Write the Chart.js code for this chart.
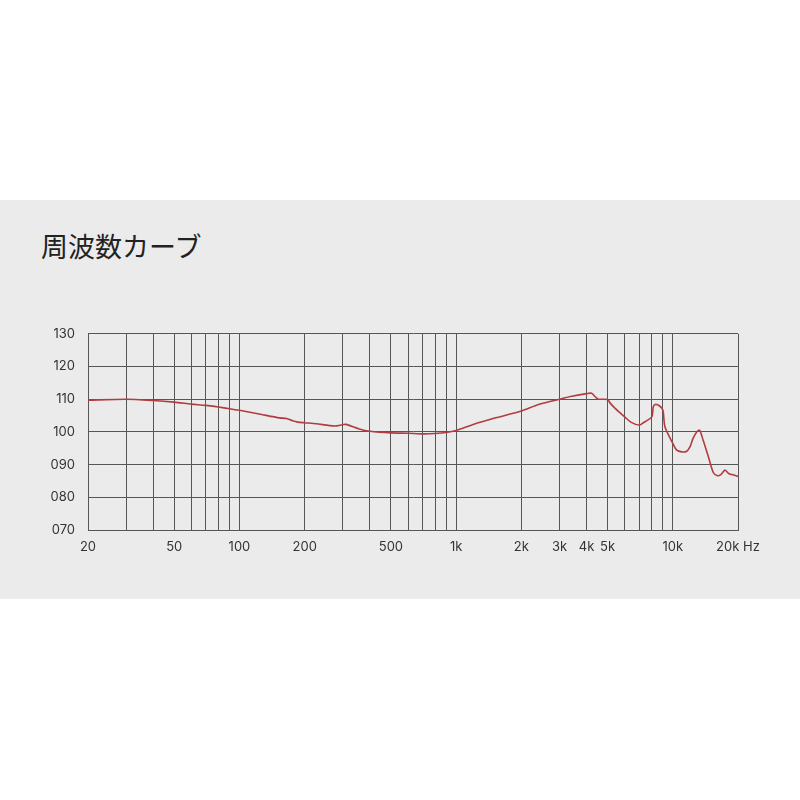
<!DOCTYPE html>
<html lang="ja">
<head>
<meta charset="UTF-8">
<title>周波数カーブ</title>
<style>
  body {
    margin: 0;
    background: #fff;
    width: 800px;
    height: 800px;
    position: relative;
    overflow: hidden;
  }
  .band {
    position: absolute;
    left: 0;
    top: 200px;
    width: 800px;
    height: 399px;
    background: #ebebeb;
  }
  .band h1 {
    position: absolute;
    left: 41px;
    top: 26px;
    margin: 0;
    font-family: "Noto Sans CJK JP", sans-serif;
    font-weight: 400;
    font-size: 27px;
    color: #222;
  }
  .chart-box {
    position: absolute;
    left: 0;
    top: 113px;
    width: 800px;
    height: 257px;
  }
</style>
<script src="https://cdn.jsdelivr.net/npm/chart.js"></script>
</head>
<body>
<div class="band">
  <h1>周波数カーブ</h1>
  <div class="chart-box"><canvas id="freqChart"></canvas></div>
</div>

<script>
// frequency response (Hz / dB)
var freqs = [20, 30, 40, 50, 60, 70, 80, 90, 100, 125, 153, 165, 176, 186, 200, 226, 274, 300, 310, 357,
  400, 500, 600, 700, 800, 900, 1000, 1190, 1520, 2000, 2400, 3000, 3420, 4000, 4220, 4440, 4540,
  5000, 5140, 5420, 6000, 6400, 7000, 7310, 8000, 8130, 8300, 8670, 9000, 9200, 10000, 10400, 11000,
  11600, 12000, 12400, 12900, 13300, 13800, 14600, 15400, 16100, 16700, 17400, 18100, 19600, 20000];
var spl = [109.7, 110.0, 109.6, 109.1, 108.5, 108.1, 107.6, 107.1, 106.6, 105.4, 104.3, 104.1, 103.4, 103.0, 102.8, 102.5, 101.8, 102.2, 102.3, 100.9,
  100.2, 99.7, 99.6, 99.4, 99.5, 99.8, 100.4, 102.2, 104.3, 106.4, 108.4, 110.0, 110.9, 111.7, 111.8, 110.4, 110.0,
  109.9, 108.8, 107.2, 104.6, 103.0, 102.1, 102.8, 104.6, 107.7, 108.4, 108.0, 106.7, 101.6, 96.5, 94.5, 93.9,
  94.1, 95.4, 98.0, 100.0, 100.5, 97.5, 92.4, 87.5, 86.6, 87.0, 88.3, 87.3, 86.6, 86.4];

// grid / tick positions on the frequency axis
var xTicks = [20, 30, 40, 50, 60, 70, 80, 90, 100, 200, 300, 400, 500, 600, 700, 800, 900,
  1000, 2000, 3000, 4000, 5000, 6000, 7000, 8000, 9000, 10000, 20000];
var xLabels = {20: '20', 50: '50', 100: '100', 200: '200', 500: '500', 1000: '1k', 2000: '2k',
  3000: '3k', 4000: '4k', 5000: '5k', 10000: '10k', 20000: '20k Hz'};
var yMin = 70, yMax = 130, yStep = 10;

var points = freqs.map(function (f, i) { return {x: f, y: spl[i]}; });

var gridColor = '#565656';
var tickFont = {family: 'Inter, "Noto Sans", sans-serif', size: 13};

new Chart(document.getElementById('freqChart'), {
  type: 'line',
  data: {
    datasets: [{
      data: points,
      borderColor: '#b23c42',
      borderWidth: 1.6,
      pointRadius: 0,
      fill: false,
      tension: 0.25
    }]
  },
  options: {
    responsive: true,
    maintainAspectRatio: false,
    animation: false,
    layout: {padding: {top: 6, right: 62, left: 0, bottom: 0}},
    plugins: {legend: {display: false}, tooltip: {enabled: false}},
    scales: {
      x: {
        type: 'logarithmic',
        min: 20,
        max: 20000,
        afterBuildTicks: function (axis) {
          axis.ticks = xTicks.map(function (v) { return {value: v}; });
        },
        afterFit: function (axis) { axis.height = 40; },
        ticks: {
          autoSkip: false,
          maxRotation: 0,
          padding: 9,
          color: '#333',
          font: tickFont,
          callback: function (v) { return xLabels[v] || ''; }
        },
        grid: {color: gridColor, lineWidth: 1, drawTicks: false},
        border: {color: gridColor, width: 1}
      },
      y: {
        min: yMin,
        max: yMax,
        afterFit: function (axis) { axis.width = 88; },
        ticks: {
          stepSize: yStep,
          padding: 13,
          color: '#333',
          font: tickFont,
          callback: function (v) { return String(v).padStart(3, '0'); }
        },
        grid: {color: gridColor, lineWidth: 1, drawTicks: false},
        border: {color: gridColor, width: 1}
      }
    }
  }
});
</script>
</body>
</html>
